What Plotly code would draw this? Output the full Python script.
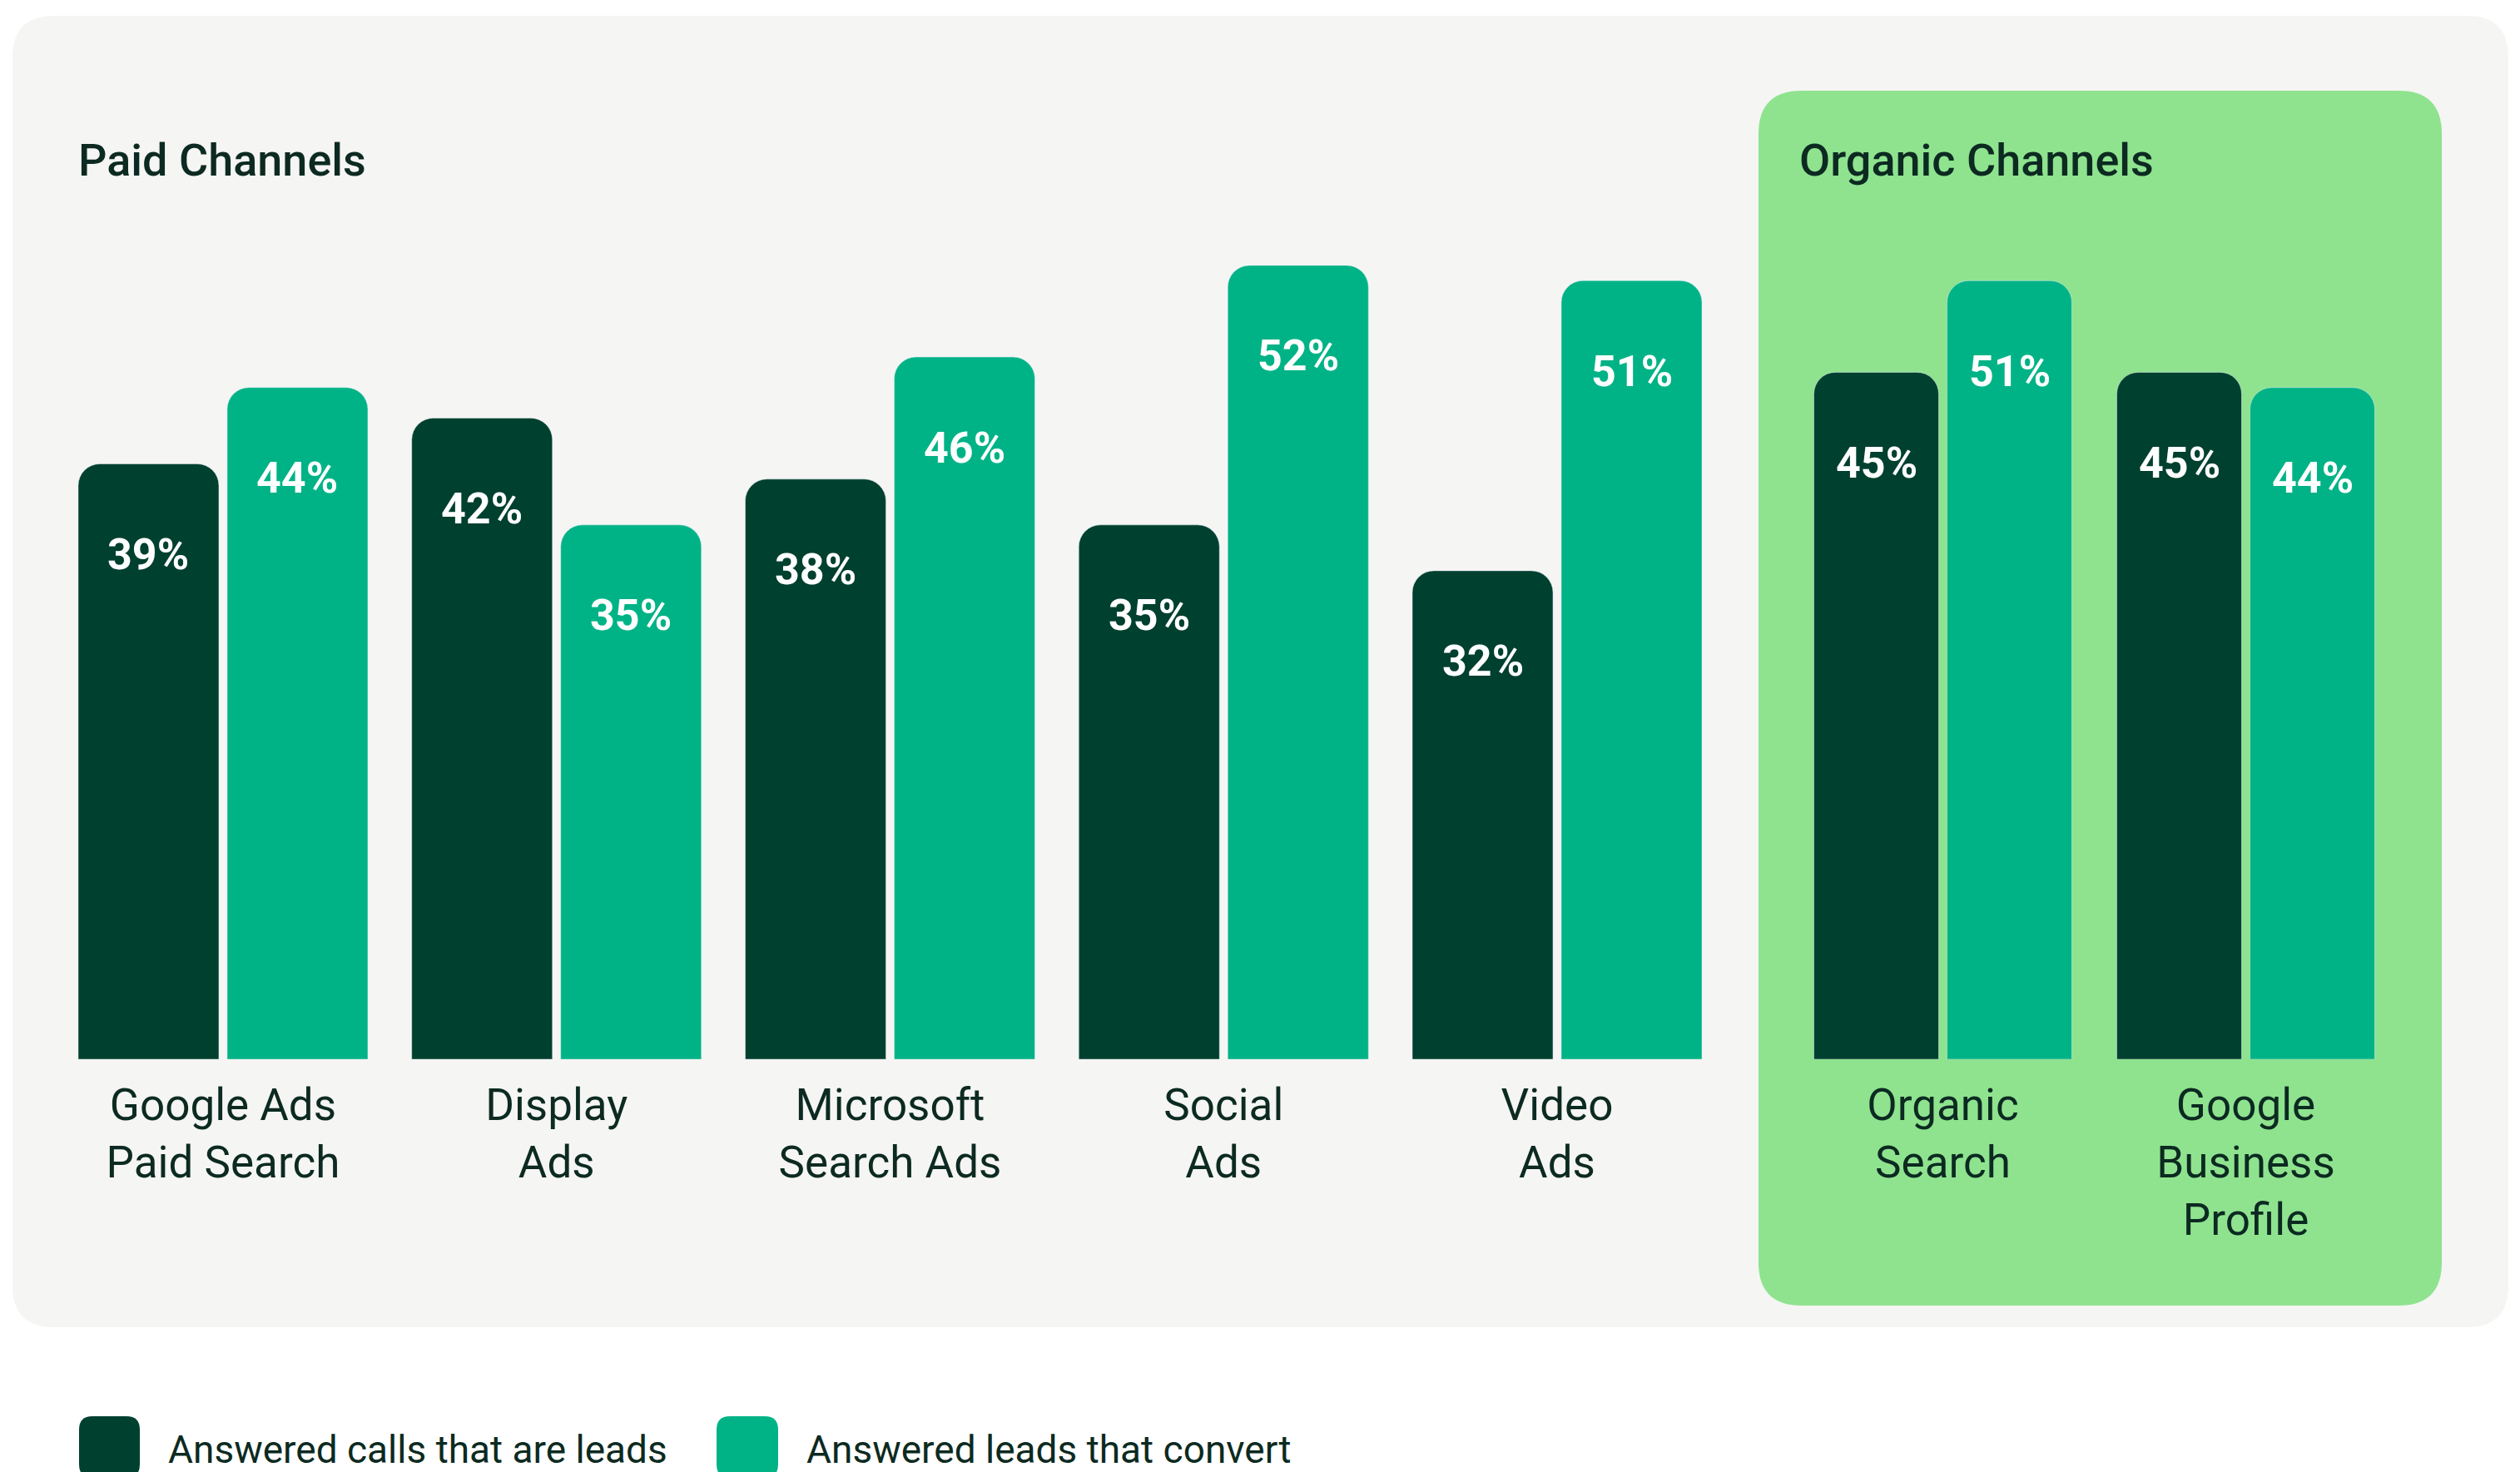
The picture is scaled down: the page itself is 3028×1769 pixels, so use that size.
import plotly.graph_objects as go

# ---------------- data ----------------
paid_channels = ["Google Ads<br>Paid Search", "Display<br>Ads", "Microsoft<br>Search Ads", "Social<br>Ads", "Video<br>Ads"]
paid_leads = [39, 42, 38, 35, 32]
paid_convert = [44, 35, 46, 52, 51]

organic_channels = ["Organic<br>Search", "Google<br>Business<br>Profile"]
organic_leads = [45, 45]
organic_convert = [51, 44]

series_names = ["Answered calls that are leads", "Answered leads that convert"]
group_titles = ["Paid Channels", "Organic Channels"]

# ---------------- style ----------------
W, H = 3028, 1769
DARK = "#00402F"
TEAL = "#00B386"
PANEL = "#F5F5F3"
ORGANIC_BG = "#8FE38F"
TXT = "#0C2A21"
FONT = "Roboto"


def px(x):
    return x / W


def py(y):
    return 1 - y / H


def rrect(x0, y0, x1, y1, r):
    rx, ry = r / W, r / H
    X0, X1, Y0, Y1 = px(x0), px(x1), py(y0), py(y1)
    return (f"M {X0+rx},{Y0} L {X1-rx},{Y0} Q {X1},{Y0} {X1},{Y0-ry} "
            f"L {X1},{Y1+ry} Q {X1},{Y1} {X1-rx},{Y1} L {X0+rx},{Y1} "
            f"Q {X0},{Y1} {X0},{Y1+ry} L {X0},{Y0-ry} Q {X0},{Y0} {X0+rx},{Y0} Z")


# geometry (pixels)
axis_bottom = 1273
axis_top = 163
y_max = 60.5
paid_dom = (67.6, 2071.4)
org_dom = (2152.5, 2880.5)
paid_w, paid_off_d, paid_off_t = 169 / 400.75, -174 / 400.75, 5 / 400.75
org_w, org_off_d, org_off_t = 150 / 364, -155 / 364, 5 / 364

fig = go.Figure()

fig.add_trace(go.Bar(x=paid_channels, y=paid_leads, name=series_names[0], marker_color=DARK,
                     width=paid_w, offset=paid_off_d, marker_cornerradius=26,
                     xaxis="x", yaxis="y", showlegend=False))
fig.add_trace(go.Bar(x=paid_channels, y=paid_convert, name=series_names[1], marker_color=TEAL,
                     width=paid_w, offset=paid_off_t, marker_cornerradius=26,
                     xaxis="x", yaxis="y", showlegend=False))
fig.add_trace(go.Bar(x=organic_channels, y=organic_leads, name=series_names[0], marker_color=DARK,
                     width=org_w, offset=org_off_d, marker_cornerradius=26,
                     xaxis="x2", yaxis="y", showlegend=False))
fig.add_trace(go.Bar(x=organic_channels, y=organic_convert, name=series_names[1], marker_color=TEAL,
                     width=org_w, offset=org_off_t, marker_cornerradius=26,
                     xaxis="x2", yaxis="y", showlegend=False))

annotations = []
# value labels inside bars
for xref, cats, vals, off, w in [("x", paid_channels, paid_leads, paid_off_d, paid_w),
                                 ("x", paid_channels, paid_convert, paid_off_t, paid_w),
                                 ("x2", organic_channels, organic_leads, org_off_d, org_w),
                                 ("x2", organic_channels, organic_convert, org_off_t, org_w)]:
    for i, v in enumerate(vals):
        annotations.append(dict(x=i + off + w / 2, y=v, xref=xref, yref="y",
                                text=f"{v}%", showarrow=False, yshift=-109,
                                xanchor="center", yanchor="middle",
                                font=dict(family=FONT, size=52, color="white", weight="bold")))

# panel titles
annotations.append(dict(x=px(92), y=py(193), xref="paper", yref="paper", text=group_titles[0],
                        showarrow=False, xanchor="left", yanchor="middle",
                        font=dict(family=FONT, size=54, color=TXT, weight=500)))
annotations.append(dict(x=px(2160), y=py(193), xref="paper", yref="paper", text=group_titles[1],
                        showarrow=False, xanchor="left", yanchor="middle",
                        font=dict(family=FONT, size=54, color=TXT, weight=500)))

# legend texts
annotations.append(dict(x=px(200), y=py(1742), xref="paper", yref="paper", text=series_names[0],
                        showarrow=False, xanchor="left", yanchor="middle",
                        font=dict(family=FONT, size=46, color=TXT)))
annotations.append(dict(x=px(967), y=py(1742), xref="paper", yref="paper", text=series_names[1],
                        showarrow=False, xanchor="left", yanchor="middle",
                        font=dict(family=FONT, size=46, color=TXT)))

shapes = [
    dict(type="path", xref="paper", yref="paper", path=rrect(15, 19, 3014, 1595, 50),
         fillcolor=PANEL, line=dict(width=0), layer="below"),
    dict(type="path", xref="paper", yref="paper", path=rrect(2113, 109, 2934, 1569, 52),
         fillcolor=ORGANIC_BG, line=dict(width=0), layer="below"),
    dict(type="path", xref="paper", yref="paper", path=rrect(95, 1702, 168, 1776, 16),
         fillcolor=DARK, line=dict(width=0), layer="below"),
    dict(type="path", xref="paper", yref="paper", path=rrect(861, 1702, 935, 1776, 16),
         fillcolor=TEAL, line=dict(width=0), layer="below"),
]

axis_common = dict(type="category", showgrid=False, zeroline=False, showline=False, ticks="",
                   tickfont=dict(family=FONT, size=53, color=TXT), ticklabelstandoff=19,
                   fixedrange=True)

fig.update_layout(
    width=W, height=H,
    margin=dict(l=0, r=0, t=0, b=0),
    paper_bgcolor="white", plot_bgcolor="rgba(0,0,0,0)",
    barmode="overlay",
    showlegend=False,
    xaxis=dict(domain=[px(paid_dom[0]), px(paid_dom[1])], range=[-0.5, 4.5], anchor="y", **axis_common),
    xaxis2=dict(domain=[px(org_dom[0]), px(org_dom[1])], range=[-0.5, 1.5], anchor="y", **axis_common),
    yaxis=dict(domain=[py(axis_bottom), py(axis_top)], range=[0, y_max], visible=False, fixedrange=True),
    shapes=shapes,
    annotations=annotations,
    font=dict(family=FONT, color=TXT),
)

fig.write_html("out.html", config={"displayModeBar": False},
               post_script="document.body.style.margin='0';document.body.style.overflow='hidden';")
